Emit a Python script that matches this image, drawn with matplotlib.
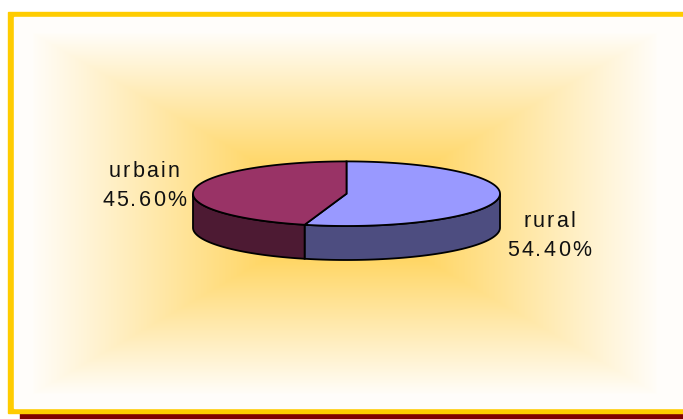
import numpy as np
import matplotlib
matplotlib.use("Agg")
import matplotlib.pyplot as plt
from matplotlib.patches import Rectangle, Polygon
from matplotlib.font_manager import FontProperties, findfont, get_font

# data
labels = ["rural", "urbain"]
shares = [54.4, 45.6]
top_colors = ["#9999FF", "#993366"]
side_colors = ["#4D4D80", "#4D1A33"]
label_pos = {"rural": (549, 227), "urbain": (144, 177)}

W, H, DPI = 683, 419, 100
fig = plt.figure(figsize=(W / DPI, H / DPI), dpi=DPI)
ax = fig.add_axes([0, 0, 1, 1])
ax.set_xlim(0, W)
ax.set_ylim(H, 0)
ax.axis("off")

# frame + shadow
ax.add_patch(Rectangle((20, 413.5), W, 6, color="#800000", zorder=1))
ax.add_patch(Rectangle((8, 11.5), W, 402, color="#FFCC00", zorder=1))
ax.add_patch(Rectangle((13.5, 17), W, 391, color="#FFFDFA", zorder=2))

# rectangular gradient "from center"
gx0, gx1, gy0, gy1 = 33, 657, 33, 394
xs = np.linspace(-1, 1, gx1 - gx0)
ys = np.linspace(-1, 1, gy1 - gy0)
X, Y = np.meshgrid(xs, ys)
t = np.maximum(np.abs(X), np.abs(Y))[..., None]
c_in = np.array([255, 201, 51]) / 255
c_out = np.array([255, 253, 248]) / 255
img = c_in * (1 - t) + c_out * t
ax.imshow(img, extent=(gx0, gx1, gy1, gy0), zorder=3, interpolation="bilinear")
ax.set_xlim(0, W)
ax.set_ylim(H, 0)

# 3d pie
cx, cy, rx, ry, depth = 346.5, 193.7, 153.5, 32.3, 34


def pt(a, dy=0):
    r = np.radians(a)
    return cx + rx * np.cos(r), cy - ry * np.sin(r) + dy


cum = np.concatenate([[0], np.cumsum(shares)]) / sum(shares) * 360
for i in range(len(shares)):
    a0, a1 = 90 - cum[i + 1], 90 - cum[i]
    # side faces (front half only)
    for k in (-360, 0, 360):
        lo, hi = max(a0, -180 + k), min(a1, 0 + k)
        if hi <= lo:
            continue
        arc = np.linspace(lo, hi, 80)
        topp = [pt(a) for a in arc]
        botp = [pt(a, depth) for a in arc[::-1]]
        ax.add_patch(Polygon(topp + botp, closed=True, fc=side_colors[i],
                             ec="black", lw=1.3, zorder=5))
for i in range(len(shares)):
    a0, a1 = 90 - cum[i + 1], 90 - cum[i]
    arc = np.linspace(a0, a1, 200)
    poly = [(cx, cy)] + [pt(a) for a in arc]
    ax.add_patch(Polygon(poly, closed=True, fc=top_colors[i],
                         ec="black", lw=1.3, zorder=6))

# labels with letter spacing
fsize = 15.5
fp = FontProperties(family="Liberation Sans", size=fsize)
font = get_font(findfont(fp))
font.set_size(fsize, DPI)
track = 2.2


def spaced(text, xc, yb):
    adv = [font.load_char(ord(ch)).linearHoriAdvance / 65536 for ch in text]
    total = sum(adv) + track * (len(text) - 1)
    x = xc - total / 2
    for ch, a in zip(text, adv):
        ax.text(x, yb, ch, fontproperties=fp, color="#111111",
                ha="left", va="baseline", zorder=7)
        x += a + track


for i, lab in enumerate(labels):
    xc, yb = label_pos[lab]
    spaced(lab, xc, yb)
    spaced("%.2f%%" % shares[i], xc, yb + 28.5)

fig.savefig("out.png", dpi=DPI, facecolor="white")
